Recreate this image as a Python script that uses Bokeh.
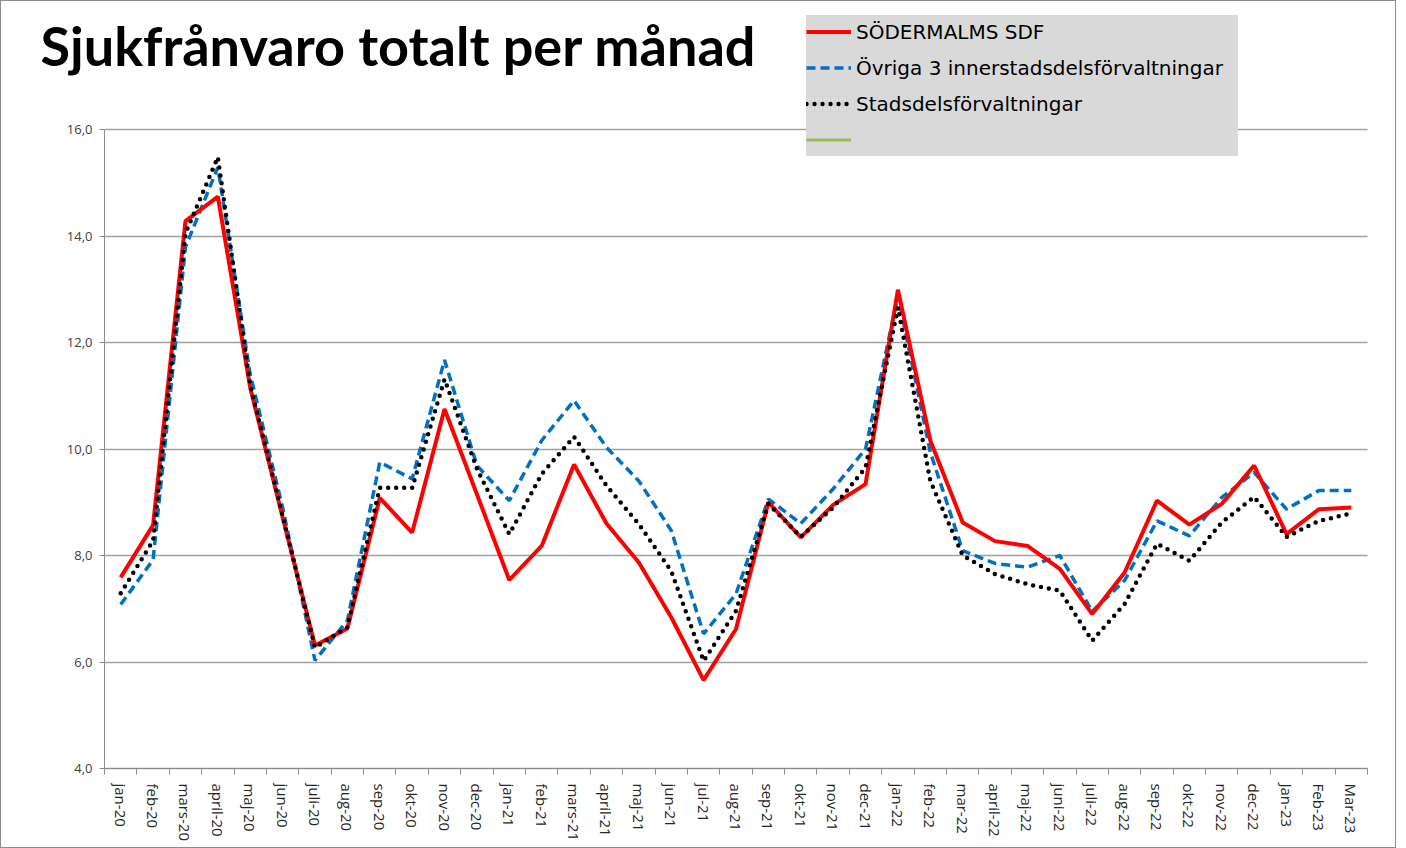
from bokeh.plotting import figure
from bokeh.models import Range1d, FixedTicker, Legend, LegendItem, ColumnDataSource, Label
from bokeh.embed import file_html
from bokeh.resources import INLINE

# ---- data ----
months = ["jan-20", "feb-20", "mars-20", "april-20", "maj-20", "jun-20", "juli-20", "aug-20",
          "sep-20", "okt-20", "nov-20", "dec-20", "jan-21", "feb-21", "mars-21", "april-21",
          "maj-21", "jun-21", "jul-21", "aug-21", "sep-21", "okt-21", "nov-21", "dec-21",
          "jan-22", "feb-22", "mar-22", "april-22", "maj-22", "juni-22", "juli-22", "aug-22",
          "sep-22", "okt-22", "nov-22", "dec-22", "Jan-23", "Feb-23", "Mar-23"]

sodermalm = [7.59, 8.57, 14.28, 14.74, 11.15, 8.72, 6.31, 6.63, 9.08, 8.43, 10.75, 9.15,
             7.54, 8.18, 9.71, 8.60, 7.87, 6.84, 5.66, 6.62, 9.00, 8.34, 8.95, 9.34,
             12.99, 10.16, 8.62, 8.27, 8.18, 7.75, 6.90, 7.68, 9.03, 8.58, 8.97, 9.69,
             8.40, 8.87, 8.90]

ovriga = [7.08, 7.92, 13.79, 15.29, 11.40, 8.90, 6.03, 6.78, 9.75, 9.44, 11.67, 9.69,
          9.03, 10.16, 10.91, 10.03, 9.40, 8.47, 6.53, 7.28, 9.06, 8.60, 9.25, 10.00,
          12.88, 9.94, 8.09, 7.85, 7.78, 8.00, 6.95, 7.53, 8.65, 8.37, 9.09, 9.56,
          8.87, 9.22, 9.22]

stadsdel = [7.29, 8.28, 14.05, 15.48, 11.20, 8.75, 6.27, 6.65, 9.27, 9.27, 11.31, 9.63,
            8.40, 9.53, 10.23, 9.31, 8.59, 7.71, 6.02, 6.96, 8.97, 8.35, 8.90, 9.65,
            12.66, 9.40, 8.00, 7.65, 7.46, 7.34, 6.40, 7.09, 8.22, 7.90, 8.62, 9.10,
            8.35, 8.65, 8.79]

fourth_series = [None] * len(months)  # green series without any values (legend only)

y_ticks = [4, 6, 8, 10, 12, 14, 16]
y_tick_labels = ["4,0", "6,0", "8,0", "10,0", "12,0", "14,0", "16,0"]

series_names = ["SÖDERMALMS SDF", "Övriga 3 innerstadsdelsförvaltningar",
                "Stadsdelsförvaltningar", " "]
title_text = "Sjukfrånvaro totalt  per månad"

# ---- layout (pixels); the frame covers the whole canvas ----
W, H = 1396, 848
axis_x_px, plot_right_px = 103, 1366
y16_px, y4_px = 128, 767

n = len(months)
xs = list(range(n))
px_per_cat = (plot_right_px - axis_x_px) / n
x_start = -0.5 - axis_x_px / px_per_cat
x_end = n - 0.5 + (W - plot_right_px) / px_per_cat
y_lo, y_hi = y_ticks[0], y_ticks[-1]
px_per_unit = (y4_px - y16_px) / (y_hi - y_lo)
y_start = y_lo - (H - y4_px) / px_per_unit
y_end = y_hi + y16_px / px_per_unit

p = figure(width=W, height=H, output_backend="svg", toolbar_location=None,
           x_range=Range1d(x_start, x_end), y_range=Range1d(y_start, y_end),
           min_border_left=0, min_border_right=0, min_border_top=0,
           min_border_bottom=0)
p.background_fill_color = "white"
p.border_fill_color = "white"
p.outline_line_color = None
p.styles = {"border": "1px solid #8c8c8c"}

yax = p.yaxis[0]
yax.fixed_location = -0.5
yax.bounds = (y_lo, y_hi)
yax.ticker = FixedTicker(ticks=y_ticks)
yax.major_label_overrides = {t: l for t, l in zip(y_ticks, y_tick_labels)}
yax.major_label_text_font = "Open Sans"
yax.major_label_text_font_size = "13px"
yax.major_label_text_color = "#404040"
yax.axis_line_color = "#8c8c8c"
yax.major_tick_line_color = "#8c8c8c"
yax.major_tick_out = 5
yax.major_tick_in = 0
yax.minor_tick_line_color = None
yax.major_label_standoff = 7

xax = p.xaxis[0]
xax.fixed_location = y_lo
xax.bounds = (-0.5, n - 0.5)
xax.ticker = FixedTicker(ticks=xs, minor_ticks=[i - 0.5 for i in range(n + 1)])
xax.major_label_overrides = {i: m for i, m in enumerate(months)}
xax.major_label_orientation = "vertical"
xax.major_label_text_font = "Open Sans"
xax.major_label_text_font_size = "15px"
xax.major_label_text_color = "#262626"
xax.axis_line_color = "#8c8c8c"
xax.major_tick_line_color = None
xax.minor_tick_line_color = "#8c8c8c"
xax.minor_tick_out = 6
xax.minor_tick_in = 0
xax.major_label_standoff = 9

p.xgrid.visible = False
yg = p.ygrid[0]
yg.grid_line_color = "#a0a0a0"
yg.grid_line_width = 1.5
yg.bounds = (y_lo, y_hi)
if "cross_bounds" in yg.properties():
    yg.cross_bounds = (-0.5, n - 0.5)

# lines
green_vals = [float("nan") if v is None else v for v in fourth_series]
src = ColumnDataSource(dict(x=xs, sod=sodermalm, ovr=ovriga, sta=stadsdel, grn=green_vals))
r_blue = p.line("x", "ovr", source=src, line_color="#0070c0", line_width=3.5,
                line_dash="9 5")
r_red = p.line("x", "sod", source=src, line_color="#ff0000", line_width=4)
r_black = p.line("x", "sta", source=src, line_color="black", line_width=4.5,
                 line_dash="0 8", line_cap="round")
r_green = p.line("x", "grn", source=src, line_color="#9bbb59", line_width=3)

# title
p.add_layout(Label(x=39, y=H - 44, x_units="screen", y_units="screen",
                   text=title_text, text_font="Lato", text_font_style="bold",
                   text_font_size="54px", text_color="black",
                   text_baseline="alphabetic"))

legend = Legend(items=[
    LegendItem(label=series_names[0], renderers=[r_red]),
    LegendItem(label=series_names[1], renderers=[r_blue]),
    LegendItem(label=series_names[2], renderers=[r_black]),
    LegendItem(label=series_names[3], renderers=[r_green]),
], location=(805, H - 155))
legend.background_fill_color = "#d9d9d9"
legend.background_fill_alpha = 1
legend.border_line_color = None
legend.label_text_font = "DejaVu Sans"
legend.label_text_font_size = "20px"
legend.label_text_color = "black"
legend.glyph_width = 45
legend.glyph_height = 33
legend.label_height = 33
legend.label_width = 382
legend.spacing = 3
legend.padding = 1
legend.margin = 0
legend.label_standoff = 5
p.add_layout(legend)

open("out.html", "w").write(file_html(p, INLINE))
